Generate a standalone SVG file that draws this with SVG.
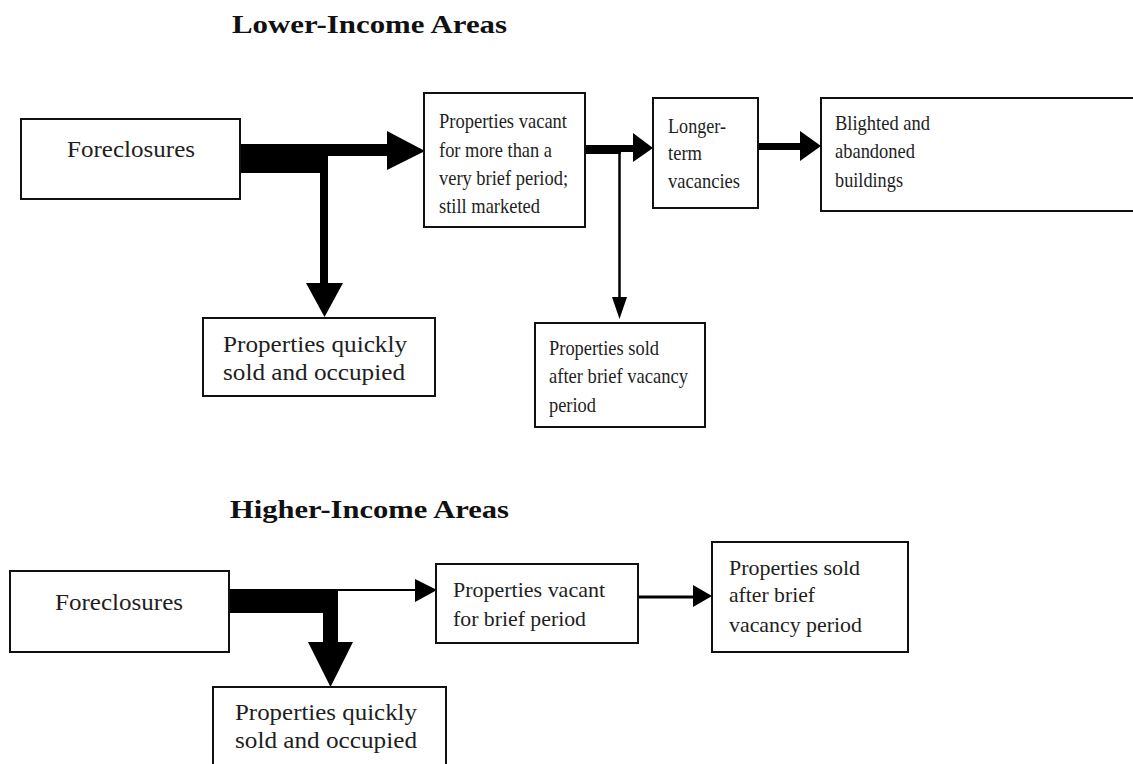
<svg xmlns="http://www.w3.org/2000/svg" width="1133" height="764" viewBox="0 0 1133 764">
<style>
.box{fill:#fff;stroke:#111;stroke-width:2}
.t{font-family:"Liberation Serif","Times New Roman",serif;font-size:22px;fill:#1e1e1e}
.tl{font-size:23px}
.tm{font-size:21px}
.h{font-family:"Liberation Serif","Times New Roman",serif;font-size:26px;font-weight:bold;fill:#111}
.a{fill:#000}
.ln{stroke:#000;fill:none}
</style>
<rect width="1133" height="764" fill="#fff"/>
<text class="h" x="232" y="33" textLength="275" lengthAdjust="spacingAndGlyphs">Lower-Income Areas</text>
<text class="h" x="230" y="518" textLength="279" lengthAdjust="spacingAndGlyphs">Higher-Income Areas</text>

<g id="connectors">
  <!-- lower: foreclosures split -->
  <rect class="a" x="240" y="144" width="88" height="29"/>
  <rect class="a" x="327" y="144" width="62" height="12"/>
  <polygon class="a" points="387,131 425,151 387,170"/>
  <rect class="a" x="320" y="144" width="8" height="140"/>
  <polygon class="a" points="306,283 343,283 324.5,317"/>
  <!-- vacant to longer-term and sold -->
  <rect class="a" x="585" y="145" width="36" height="9"/>
  <rect class="a" x="620" y="145" width="14" height="7"/>
  <polygon class="a" points="633,133 653,148 633,162"/>
  <line class="ln" x1="619.5" y1="150" x2="619.5" y2="298" stroke-width="2.5"/>
  <polygon class="a" points="612,297 627,297 619.5,319"/>
  <!-- longer-term to blighted -->
  <rect class="a" x="758" y="143" width="43" height="7"/>
  <polygon class="a" points="800,131 821,146 800,161"/>
  <!-- higher: foreclosures split -->
  <rect class="a" x="229" y="589" width="109" height="24"/>
  <rect class="a" x="323" y="589" width="15" height="54"/>
  <polygon class="a" points="308,642 353,642 330.5,687"/>
  <line class="ln" x1="338" y1="590" x2="416" y2="590" stroke-width="2"/>
  <polygon class="a" points="415,579 437,590 415,602"/>
  <!-- vacant brief to sold -->
  <line class="ln" x1="638" y1="597" x2="694" y2="597" stroke-width="3"/>
  <polygon class="a" points="693,585 712,596 693,607"/>
</g>

<g id="lower-foreclosures">
  <rect class="box" x="21" y="119" width="219" height="80"/>
  <text class="t tl" x="67" y="157" textLength="128" lengthAdjust="spacingAndGlyphs">Foreclosures</text>
</g>
<g id="lower-vacant">
  <rect class="box" x="424" y="93" width="161" height="134"/>
  <text class="t" x="439" y="128" textLength="128" lengthAdjust="spacingAndGlyphs">Properties vacant</text>
  <text class="t" x="439" y="157" textLength="113" lengthAdjust="spacingAndGlyphs">for more than a</text>
  <text class="t" x="439" y="185" textLength="129" lengthAdjust="spacingAndGlyphs">very brief period;</text>
  <text class="t" x="439" y="213" textLength="101" lengthAdjust="spacingAndGlyphs">still marketed</text>
</g>
<g id="lower-longer">
  <rect class="box" x="653" y="98" width="105" height="110"/>
  <text class="t" x="668" y="133" textLength="58" lengthAdjust="spacingAndGlyphs">Longer-</text>
  <text class="t" x="668" y="160" textLength="34" lengthAdjust="spacingAndGlyphs">term</text>
  <text class="t" x="668" y="188" textLength="72" lengthAdjust="spacingAndGlyphs">vacancies</text>
</g>
<g id="lower-blighted">
  <rect class="box" x="821" y="98" width="320" height="113"/>
  <text class="t" x="835" y="130" textLength="95" lengthAdjust="spacingAndGlyphs">Blighted and</text>
  <text class="t" x="835" y="158" textLength="80" lengthAdjust="spacingAndGlyphs">abandoned</text>
  <text class="t" x="835" y="187" textLength="68" lengthAdjust="spacingAndGlyphs">buildings</text>
</g>
<g id="lower-quick">
  <rect class="box" x="203" y="318" width="232" height="78"/>
  <text class="t tl" x="223" y="352" textLength="184" lengthAdjust="spacingAndGlyphs">Properties quickly</text>
  <text class="t tl" x="223" y="380" textLength="182" lengthAdjust="spacingAndGlyphs">sold and occupied</text>
</g>
<g id="lower-sold">
  <rect class="box" x="535" y="323" width="170" height="104"/>
  <text class="t" x="549" y="355" textLength="110" lengthAdjust="spacingAndGlyphs">Properties sold</text>
  <text class="t" x="549" y="383" textLength="139" lengthAdjust="spacingAndGlyphs">after brief vacancy</text>
  <text class="t" x="549" y="412" textLength="47" lengthAdjust="spacingAndGlyphs">period</text>
</g>

<g id="higher-foreclosures">
  <rect class="box" x="10" y="571" width="219" height="81"/>
  <text class="t tl" x="55" y="610" textLength="128" lengthAdjust="spacingAndGlyphs">Foreclosures</text>
</g>
<g id="higher-vacant">
  <rect class="box" x="436" y="564" width="202" height="79"/>
  <text class="t tm" x="453" y="597" textLength="152" lengthAdjust="spacingAndGlyphs">Properties vacant</text>
  <text class="t tm" x="453" y="626" textLength="133" lengthAdjust="spacingAndGlyphs">for brief period</text>
</g>
<g id="higher-sold">
  <rect class="box" x="712" y="542" width="196" height="110"/>
  <text class="t tm" x="729" y="575" textLength="131" lengthAdjust="spacingAndGlyphs">Properties sold</text>
  <text class="t tm" x="729" y="602" textLength="86" lengthAdjust="spacingAndGlyphs">after brief</text>
  <text class="t tm" x="729" y="632" textLength="133" lengthAdjust="spacingAndGlyphs">vacancy period</text>
</g>
<g id="higher-quick">
  <rect class="box" x="213" y="687" width="233" height="90"/>
  <text class="t tl" x="235" y="720" textLength="182" lengthAdjust="spacingAndGlyphs">Properties quickly</text>
  <text class="t tl" x="235" y="748" textLength="182" lengthAdjust="spacingAndGlyphs">sold and occupied</text>
</g>
</svg>
